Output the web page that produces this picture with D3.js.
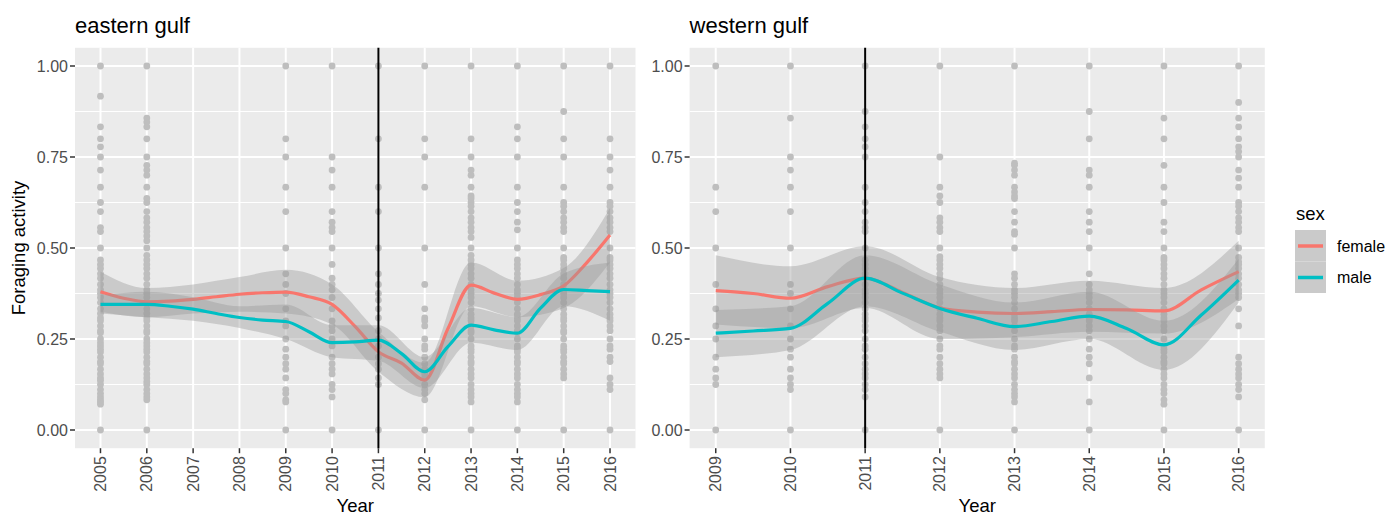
<!DOCTYPE html>
<html>
<head>
<meta charset="utf-8">
<script src="https://cdn.jsdelivr.net/npm/d3@7"></script>
<style>
  body { margin: 0; background: #fff; }
  text { font-family: "Liberation Sans", Arial, sans-serif; }
</style>
</head>
<body>
<div id="chart"></div>
<script>
// ---- data ----
const yTicks = [0, 0.25, 0.5, 0.75, 1];
const yMinor = [0.125, 0.375, 0.625, 0.875];
const sexes = ["female", "male"];
const sexColors = ["#F8766D", "#00BFC4"];

const eastYears = [2005, 2006, 2007, 2008, 2009, 2010, 2011, 2012, 2013, 2014, 2015, 2016];
const westYears = [2009, 2010, 2011, 2012, 2013, 2014, 2015, 2016];

// raw observations, one list per year
const eastPoints = [
  [1, 0.917, 0.833, 0.8, 0.778, 0.75, 0.714, 0.667, 0.625, 0.6, 0.556, 0.545, 0.5, 0.467, 0.455, 0.444, 0.429, 0.417, 0.4, 0.385, 0.375, 0.364, 0.35, 0.333, 0.32, 0.308, 0.3, 0.286, 0.273, 0.267, 0.25, 0.24, 0.231, 0.222, 0.214, 0.2, 0.188, 0.182, 0.167, 0.154, 0.143, 0.136, 0.125, 0.111, 0.1, 0.091, 0.083, 0.077, 0.071, 0],
  [1, 0.857, 0.846, 0.833, 0.8, 0.75, 0.727, 0.714, 0.7, 0.667, 0.636, 0.625, 0.6, 0.583, 0.571, 0.556, 0.545, 0.533, 0.52, 0.5, 0.48, 0.467, 0.455, 0.444, 0.429, 0.417, 0.4, 0.385, 0.375, 0.364, 0.35, 0.333, 0.32, 0.308, 0.3, 0.286, 0.273, 0.267, 0.25, 0.24, 0.231, 0.222, 0.214, 0.2, 0.188, 0.182, 0.167, 0.154, 0.143, 0.133, 0.125, 0.111, 0.1, 0.091, 0.083, 0],
  [],
  [],
  [1, 0.8, 0.75, 0.667, 0.6, 0.5, 0.429, 0.4, 0.375, 0.333, 0.3, 0.286, 0.25, 0.222, 0.2, 0.182, 0.167, 0.143, 0.111, 0.1, 0.083, 0.077, 0],
  [1, 0.75, 0.714, 0.667, 0.6, 0.571, 0.556, 0.545, 0.5, 0.455, 0.417, 0.4, 0.385, 0.364, 0.333, 0.3, 0.286, 0.273, 0.25, 0.231, 0.2, 0.182, 0.167, 0.154, 0.125, 0.111, 0.091, 0],
  [1, 0.8, 0.667, 0.6, 0.5, 0.429, 0.4, 0.375, 0.357, 0.333, 0.308, 0.273, 0.25, 0.231, 0.2, 0.182, 0.167, 0.143, 0.125, 0],
  [1, 0.8, 0.75, 0.667, 0.5, 0.4, 0.333, 0.308, 0.3, 0.286, 0.25, 0.231, 0.222, 0.2, 0.182, 0.167, 0.154, 0.143, 0.125, 0.111, 0.1, 0.083, 0],
  [1, 0.8, 0.75, 0.714, 0.7, 0.667, 0.643, 0.636, 0.625, 0.615, 0.6, 0.583, 0.571, 0.556, 0.545, 0.529, 0.5, 0.48, 0.467, 0.455, 0.444, 0.429, 0.417, 0.4, 0.385, 0.375, 0.364, 0.35, 0.333, 0.318, 0.308, 0.3, 0.286, 0.273, 0.267, 0.25, 0.231, 0.222, 0.214, 0.2, 0.188, 0.182, 0.167, 0.154, 0.143, 0.125, 0.111, 0.1, 0.091, 0.077, 0],
  [1, 0.833, 0.8, 0.75, 0.667, 0.625, 0.6, 0.571, 0.55, 0.5, 0.467, 0.455, 0.444, 0.429, 0.417, 0.4, 0.385, 0.375, 0.364, 0.35, 0.333, 0.318, 0.308, 0.3, 0.286, 0.273, 0.267, 0.25, 0.231, 0.222, 0.214, 0.2, 0.188, 0.182, 0.167, 0.154, 0.143, 0.125, 0.111, 0.1, 0.091, 0.077, 0],
  [1, 0.875, 0.8, 0.75, 0.667, 0.625, 0.615, 0.6, 0.583, 0.571, 0.556, 0.545, 0.5, 0.474, 0.467, 0.455, 0.444, 0.429, 0.417, 0.4, 0.385, 0.375, 0.364, 0.35, 0.333, 0.318, 0.308, 0.3, 0.286, 0.273, 0.267, 0.25, 0.231, 0.222, 0.214, 0.2, 0.188, 0.182, 0.167, 0.154, 0.143, 0],
  [1, 0.8, 0.75, 0.714, 0.667, 0.625, 0.615, 0.6, 0.583, 0.571, 0.556, 0.545, 0.5, 0.474, 0.467, 0.455, 0.444, 0.429, 0.417, 0.4, 0.385, 0.375, 0.364, 0.35, 0.333, 0.318, 0.308, 0.3, 0.286, 0.273, 0.25, 0.231, 0.222, 0.2, 0.188, 0.143, 0.125, 0.111, 0]
];

const westPoints = [
  [1, 0.667, 0.6, 0.5, 0.4, 0.333, 0.286, 0.25, 0.2, 0.167, 0.143, 0.125, 0],
  [1, 0.857, 0.75, 0.714, 0.667, 0.6, 0.5, 0.4, 0.375, 0.333, 0.286, 0.25, 0.222, 0.2, 0.167, 0.143, 0.125, 0.111, 0],
  [1, 0.875, 0.833, 0.8, 0.778, 0.75, 0.667, 0.625, 0.6, 0.571, 0.556, 0.545, 0.5, 0.467, 0.455, 0.444, 0.429, 0.417, 0.4, 0.385, 0.375, 0.364, 0.35, 0.333, 0.318, 0.308, 0.3, 0.286, 0.273, 0.25, 0.231, 0.222, 0.2, 0.182, 0.167, 0.154, 0.143, 0.125, 0.111, 0.091, 0],
  [1, 0.75, 0.667, 0.643, 0.625, 0.583, 0.571, 0.556, 0.545, 0.5, 0.476, 0.467, 0.455, 0.444, 0.429, 0.417, 0.4, 0.385, 0.375, 0.364, 0.35, 0.333, 0.318, 0.308, 0.3, 0.286, 0.273, 0.25, 0.231, 0.222, 0.2, 0.182, 0.167, 0.154, 0.143, 0],
  [1, 0.733, 0.727, 0.714, 0.7, 0.667, 0.654, 0.643, 0.636, 0.6, 0.571, 0.545, 0.538, 0.5, 0.429, 0.417, 0.4, 0.385, 0.375, 0.364, 0.35, 0.333, 0.318, 0.308, 0.3, 0.286, 0.273, 0.25, 0.231, 0.222, 0.2, 0.188, 0.182, 0.167, 0.154, 0.143, 0.125, 0.111, 0.1, 0.091, 0.077, 0],
  [1, 0.875, 0.8, 0.714, 0.7, 0.667, 0.6, 0.571, 0.545, 0.5, 0.429, 0.4, 0.385, 0.375, 0.364, 0.35, 0.333, 0.318, 0.308, 0.3, 0.286, 0.273, 0.25, 0.222, 0.2, 0.182, 0.143, 0.077, 0],
  [1, 0.857, 0.8, 0.727, 0.667, 0.625, 0.571, 0.545, 0.5, 0.474, 0.467, 0.455, 0.444, 0.429, 0.417, 0.4, 0.385, 0.375, 0.364, 0.35, 0.333, 0.318, 0.308, 0.3, 0.286, 0.273, 0.25, 0.231, 0.222, 0.214, 0.2, 0.188, 0.182, 0.167, 0.154, 0.143, 0.125, 0.111, 0.1, 0.083, 0.071, 0],
  [1, 0.9, 0.857, 0.833, 0.8, 0.778, 0.765, 0.75, 0.714, 0.692, 0.667, 0.625, 0.615, 0.6, 0.583, 0.571, 0.556, 0.545, 0.5, 0.474, 0.462, 0.455, 0.444, 0.429, 0.417, 0.4, 0.385, 0.375, 0.364, 0.333, 0.286, 0.2, 0.182, 0.167, 0.154, 0.143, 0.125, 0.111, 0.091, 0]
];

// smoothed fits, read every half year
const eastFitX = [2005, 2005.5, 2006, 2006.5, 2007, 2007.5, 2008, 2008.5, 2009, 2009.5, 2010, 2010.5, 2011, 2011.5, 2012, 2012.5, 2013, 2013.5, 2014, 2014.5, 2015, 2015.5, 2016];
const eastFemaleFit = [0.38, 0.362, 0.352, 0.354, 0.359, 0.366, 0.373, 0.377, 0.379, 0.366, 0.345, 0.284, 0.215, 0.184, 0.137, 0.278, 0.398, 0.376, 0.359, 0.372, 0.396, 0.46, 0.536];
const eastMaleFit = [0.345, 0.345, 0.345, 0.34, 0.332, 0.32, 0.309, 0.302, 0.298, 0.27, 0.24, 0.242, 0.247, 0.21, 0.16, 0.229, 0.288, 0.275, 0.266, 0.335, 0.386, 0.383, 0.38];

const westFitX = [2009, 2009.5, 2010, 2010.5, 2011, 2011.5, 2012, 2012.5, 2013, 2013.5, 2014, 2014.5, 2015, 2015.5, 2016];
const westFemaleFit = [0.383, 0.375, 0.362, 0.394, 0.417, 0.378, 0.336, 0.324, 0.32, 0.325, 0.331, 0.33, 0.327, 0.385, 0.435];
const westMaleFit = [0.266, 0.272, 0.279, 0.348, 0.417, 0.376, 0.334, 0.307, 0.284, 0.298, 0.313, 0.279, 0.234, 0.316, 0.412];

// confidence bands, read once a year
const eastFemaleLo = [0.325, 0.31, 0.32, 0.325, 0.32, 0.29, 0.16, 0.09, 0.34, 0.31, 0.335, 0.46];
const eastFemaleHi = [0.435, 0.39, 0.40, 0.42, 0.44, 0.40, 0.27, 0.185, 0.46, 0.41, 0.445, 0.61];
const eastMaleLo = [0.32, 0.31, 0.30, 0.28, 0.25, 0.20, 0.19, 0.115, 0.24, 0.22, 0.34, 0.30];
const eastMaleHi = [0.37, 0.38, 0.365, 0.34, 0.345, 0.288, 0.288, 0.20, 0.335, 0.31, 0.43, 0.46];

const westFemaleLo = [0.29, 0.28, 0.335, 0.25, 0.255, 0.27, 0.265, 0.36];
const westFemaleHi = [0.48, 0.45, 0.505, 0.42, 0.39, 0.41, 0.39, 0.52];
const westMaleLo = [0.20, 0.22, 0.34, 0.27, 0.22, 0.25, 0.165, 0.35];
const westMaleHi = [0.33, 0.34, 0.48, 0.40, 0.35, 0.38, 0.30, 0.47];

// ---- drawing ----
const width = 1388, height = 515;
const plotTop = 47.8, plotBottom = 448.2;

const svg = d3.select("#chart").append("svg")
  .attr("width", width)
  .attr("height", height);

const y = d3.scaleLinear().domain([-0.05, 1.05]).range([plotBottom, plotTop]);

function drawPanel(opt) {
  const x = d3.scaleLinear().domain(opt.domain).range([opt.left, opt.right]);
  const g = svg.append("g");

  g.append("rect")
    .attr("x", opt.left).attr("y", plotTop)
    .attr("width", opt.right - opt.left).attr("height", plotBottom - plotTop)
    .attr("fill", "#EBEBEB");

  g.selectAll(".minor").data(yMinor).enter().append("line")
    .attr("x1", opt.left).attr("x2", opt.right)
    .attr("y1", d => y(d)).attr("y2", d => y(d))
    .attr("stroke", "#fff").attr("stroke-width", 1);

  g.selectAll(".hmajor").data(yTicks).enter().append("line")
    .attr("x1", opt.left).attr("x2", opt.right)
    .attr("y1", d => y(d)).attr("y2", d => y(d))
    .attr("stroke", "#fff").attr("stroke-width", 2);

  g.selectAll(".vmajor").data(opt.years).enter().append("line")
    .attr("x1", d => x(d)).attr("x2", d => x(d))
    .attr("y1", plotTop).attr("y2", plotBottom)
    .attr("stroke", "#fff").attr("stroke-width", 2);

  // observations
  const pts = [];
  opt.points.forEach((vals, i) => vals.forEach(v => pts.push([opt.years[i], v])));
  g.selectAll(".pt").data(pts).enter().append("circle")
    .attr("cx", d => x(d[0])).attr("cy", d => y(d[1]))
    .attr("r", 3.4)
    .attr("fill", "#BEBEBE");

  // smooths: band then line, female first
  const area = d3.area()
    .x(d => x(d.x)).y0(d => y(d.lo)).y1(d => y(d.hi))
    .curve(d3.curveMonotoneX);
  const line = d3.line()
    .x(d => x(d.x)).y(d => y(d.v))
    .curve(d3.curveMonotoneX);

  opt.fits.forEach((f, i) => {
    const band = opt.years.map((yr, j) => ({ x: yr, lo: f.lo[j], hi: f.hi[j] }));
    g.append("path").datum(band)
      .attr("d", area)
      .attr("fill", "#999999").attr("fill-opacity", 0.4);
    const fit = opt.fitX.map((yr, j) => ({ x: yr, v: f.fit[j] }));
    g.append("path").datum(fit)
      .attr("d", line)
      .attr("fill", "none")
      .attr("stroke", sexColors[i])
      .attr("stroke-width", 3.2);
  });

  // 2011 marker
  g.append("line")
    .attr("x1", x(2011)).attr("x2", x(2011))
    .attr("y1", plotTop).attr("y2", plotBottom)
    .attr("stroke", "#000").attr("stroke-width", 2);

  // y axis
  g.selectAll(".ytick").data(yTicks).enter().append("line")
    .attr("x1", opt.left - 5).attr("x2", opt.left)
    .attr("y1", d => y(d)).attr("y2", d => y(d))
    .attr("stroke", "#333").attr("stroke-width", 1.5);
  g.selectAll(".ylab").data(yTicks).enter().append("text")
    .attr("x", opt.left - 7).attr("y", d => y(d))
    .attr("dy", "0.35em")
    .attr("text-anchor", "end")
    .attr("font-size", 16)
    .attr("fill", "#4D4D4D")
    .text(d => d3.format(".2f")(d));

  // x axis
  g.selectAll(".xtick").data(opt.years).enter().append("line")
    .attr("x1", d => x(d)).attr("x2", d => x(d))
    .attr("y1", plotBottom).attr("y2", plotBottom + 5)
    .attr("stroke", "#333").attr("stroke-width", 1.5);
  g.selectAll(".xlab").data(opt.years).enter().append("text")
    .attr("transform", d => "translate(" + x(d) + "," + (plotBottom + 8) + ") rotate(-90)")
    .attr("dy", "0.35em")
    .attr("text-anchor", "end")
    .attr("font-size", 16)
    .attr("fill", "#4D4D4D")
    .text(d => d);

  g.append("text")
    .attr("x", (opt.left + opt.right) / 2).attr("y", 512)
    .attr("text-anchor", "middle")
    .attr("font-size", 18.5)
    .attr("fill", "#000")
    .text("Year");

  g.append("text")
    .attr("x", opt.left).attr("y", 32.5)
    .attr("font-size", 22)
    .attr("fill", "#000")
    .text(opt.title);
}

drawPanel({
  title: "eastern gulf",
  domain: [2004.45, 2016.55], left: 75, right: 635.5,
  years: eastYears, points: eastPoints, fitX: eastFitX,
  fits: [
    { fit: eastFemaleFit, lo: eastFemaleLo, hi: eastFemaleHi },
    { fit: eastMaleFit, lo: eastMaleLo, hi: eastMaleHi }
  ]
});

drawPanel({
  title: "western gulf",
  domain: [2008.65, 2016.35], left: 689.6, right: 1264.8,
  years: westYears, points: westPoints, fitX: westFitX,
  fits: [
    { fit: westFemaleFit, lo: westFemaleLo, hi: westFemaleHi },
    { fit: westMaleFit, lo: westMaleLo, hi: westMaleHi }
  ]
});

// y axis title
svg.append("text")
  .attr("transform", "translate(25," + (plotTop + plotBottom) / 2 + ") rotate(-90)")
  .attr("text-anchor", "middle")
  .attr("font-size", 18.5)
  .attr("fill", "#000")
  .text("Foraging activity");

// legend
const legend = svg.append("g");
legend.append("text")
  .attr("x", 1296).attr("y", 219.5)
  .attr("font-size", 18.5)
  .attr("fill", "#000")
  .text("sex");

sexes.forEach((s, i) => {
  const ky = 230 + i * 31.5;
  legend.append("rect")
    .attr("x", 1295).attr("y", ky)
    .attr("width", 31).attr("height", 31.5)
    .attr("fill", "#CACACA");
  legend.append("line")
    .attr("x1", 1298).attr("x2", 1323)
    .attr("y1", ky + 16).attr("y2", ky + 16)
    .attr("stroke", sexColors[i]).attr("stroke-width", 3.5);
  legend.append("text")
    .attr("x", 1337).attr("y", ky + 16)
    .attr("dy", "0.35em")
    .attr("font-size", 16)
    .attr("fill", "#000")
    .text(s);
});
</script>
</body>
</html>
